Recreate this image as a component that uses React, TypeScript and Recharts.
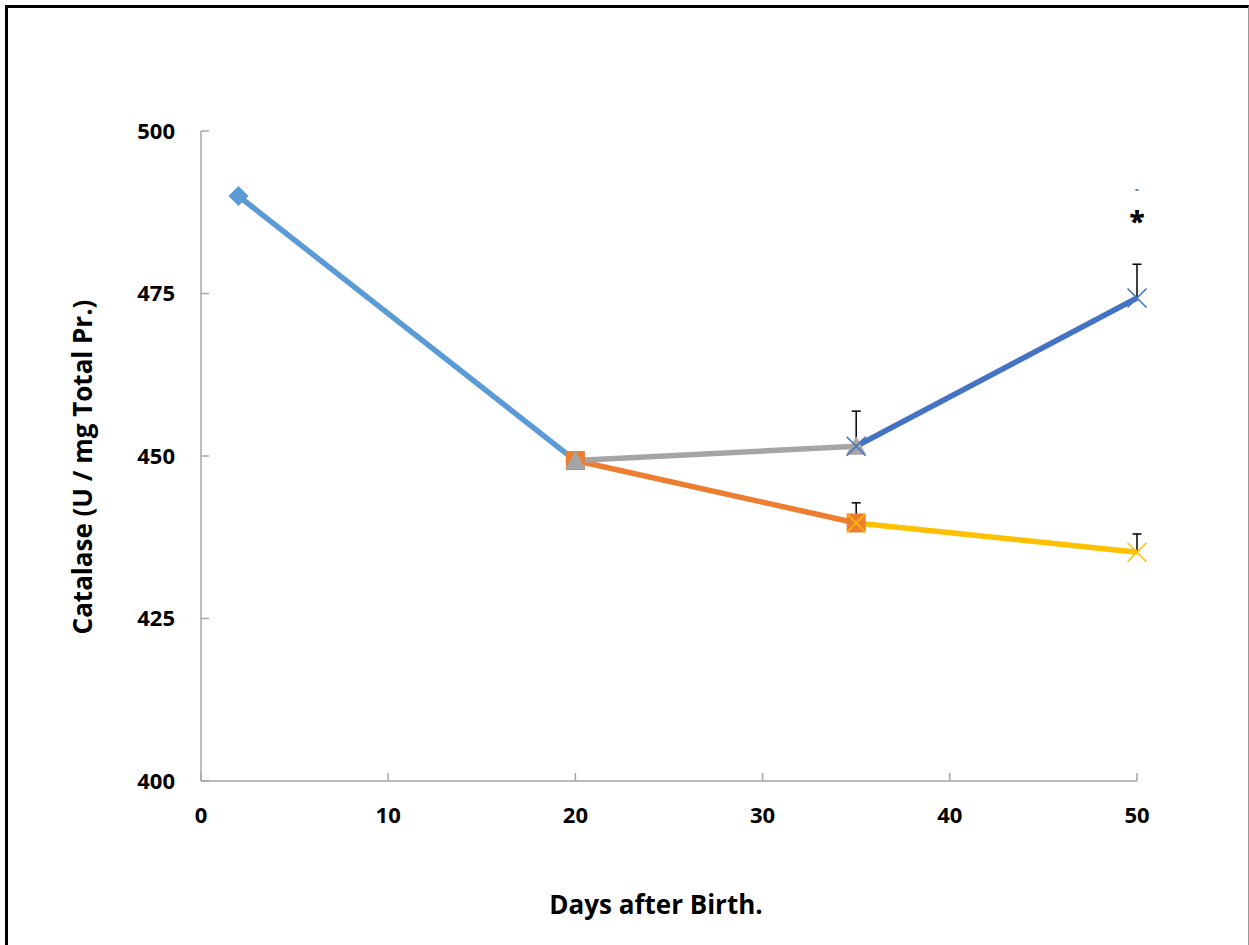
import React from "react";
import {
  ComposedChart,
  Line,
  Scatter,
  XAxis,
  YAxis,
  ErrorBar,
} from "recharts";

// days after birth / catalase readings, one segment per group
const earlyDays = [2, 20];
const earlyCatalase = [490, 449.3];

const orangeDays = [20, 35];
const orangeCatalase = [449.3, 439.7];

const grayDays = [20, 35];
const grayCatalase = [449.3, 451.5];

const blueDays = [35, 50];
const blueCatalase = [451.5, 474.3];
const blueError = [5.4, 5.2];

const yellowDays = [35, 50];
const yellowCatalase = [439.7, 435.2];
const yellowError = [3.1, 2.8];

const xTicks = [0, 10, 20, 30, 40, 50];
const yTicks = [400, 425, 450, 475, 500];

const marks = [
  { x: 50, y: 486.8, text: "*" },
  { x: 50, y: 491, text: "-" },
];

const W = 1249;
const H = 945;
const Y_AXIS_W = 60;
const X_AXIS_H = 30;
const MARGIN = { top: 131, right: 112, left: 141, bottom: 134 };
const PLOT_LEFT = MARGIN.left + Y_AXIS_W;
const PLOT_BOTTOM = H - MARGIN.bottom - X_AXIS_H;

const AXIS_COLOR = "#a6a6a6";
const FONT = "'Open Sans', 'Noto Sans', sans-serif";

const toPoints = (xs: number[], ys: number[], errs?: number[]) =>
  xs.map((x, i) => ({ x, y: ys[i], err: errs ? errs[i] : 0 }));

const earlyData = toPoints(earlyDays, earlyCatalase);
const orangeData = toPoints(orangeDays, orangeCatalase);
const grayData = toPoints(grayDays, grayCatalase);
const blueData = toPoints(blueDays, blueCatalase, blueError);
const yellowData = toPoints(yellowDays, yellowCatalase, yellowError);

// caps sit at the top of each error bar
const capData = [...blueData, ...yellowData].map((d) => ({ x: d.x, y: d.y + d.err }));

const Diamond = (color: string) => (props: any) => {
  const { cx, cy, index } = props;
  if (cx == null || cy == null) return null;
  const r = 10;
  return (
    <path
      key={`d-${index}`}
      d={`M${cx},${cy - r}L${cx + r},${cy}L${cx},${cy + r}L${cx - r},${cy}Z`}
      fill={color}
    />
  );
};

const Square = (color: string) => (props: any) => {
  const { cx, cy, index } = props;
  if (cx == null || cy == null) return null;
  const s = 9.5;
  return <rect key={`s-${index}`} x={cx - s} y={cy - s} width={s * 2} height={s * 2} fill={color} />;
};

const Triangle = (color: string) => (props: any) => {
  const { cx, cy, index } = props;
  if (cx == null || cy == null) return null;
  const r = 10;
  return (
    <path
      key={`t-${index}`}
      d={`M${cx},${cy - r}L${cx + r},${cy + r * 0.85}L${cx - r},${cy + r * 0.85}Z`}
      fill={color}
    />
  );
};

const Cross = (color: string) => (props: any) => {
  const { cx, cy, index } = props;
  if (cx == null || cy == null) return null;
  const r = 9.5;
  return (
    <g key={`x-${index}`} stroke={color} strokeWidth={1.6}>
      <line x1={cx - r} y1={cy - r} x2={cx + r} y2={cy + r} />
      <line x1={cx - r} y1={cy + r} x2={cx + r} y2={cy - r} />
    </g>
  );
};

const Cap = (props: any) => {
  const { cx, cy } = props;
  return <line x1={cx - 4.5} x2={cx + 4.5} y1={cy} y2={cy} stroke="#000" strokeWidth={1.5} />;
};

const MarkText = (props: any) => {
  const { cx, cy, payload } = props;
  const star = payload.text === "*";
  return (
    <text
      x={cx}
      y={cy}
      dy={star ? "0.55em" : "0.3em"}
      textAnchor="middle"
      fontFamily={FONT}
      fontWeight={800}
      fontSize={star ? 28 : 12}
      fill={star ? "#000" : "#8a8a8a"}
    >
      {payload.text}
    </text>
  );
};

const YTick = (props: any) => {
  const { y, payload } = props;
  return (
    <g>
      <line x1={PLOT_LEFT} x2={PLOT_LEFT + 8} y1={y} y2={y} stroke={AXIS_COLOR} strokeWidth={1.5} />
      <text
        x={PLOT_LEFT - 26}
        y={y}
        dy="0.36em"
        textAnchor="end"
        fontFamily={FONT}
        fontWeight={700}
        fontSize={22}
        fill="#000"
      >
        {payload.value}
      </text>
    </g>
  );
};

const XTick = (props: any) => {
  const { x, payload } = props;
  return (
    <g>
      <line x1={x} x2={x} y1={PLOT_BOTTOM} y2={PLOT_BOTTOM - 8} stroke={AXIS_COLOR} strokeWidth={1.5} />
      <text
        x={x}
        y={PLOT_BOTTOM + 42}
        textAnchor="middle"
        fontFamily={FONT}
        fontWeight={700}
        fontSize={22}
        fill="#000"
      >
        {payload.value}
      </text>
    </g>
  );
};

export default function App() {
  return (
    <div
      style={{
        position: "absolute",
        left: 0,
        top: 0,
        width: W,
        height: H,
        overflow: "hidden",
        background: "#fff",
      }}
    >
      <div
        style={{
          position: "absolute",
          left: 5,
          top: 5,
          width: 1240,
          height: 960,
          borderTop: "3px solid #000",
          borderLeft: "3px solid #000",
          borderRight: "1px solid #999",
        }}
      />
      <div style={{ position: "absolute", left: 0, top: 0 }}>
        <ComposedChart width={W} height={H} margin={MARGIN}>
          <XAxis
            type="number"
            dataKey="x"
            domain={[0, 50]}
            ticks={xTicks}
            height={X_AXIS_H}
            axisLine={{ stroke: AXIS_COLOR, strokeWidth: 1.5 }}
            tickLine={false}
            tick={<XTick />}
          />
          <YAxis
            type="number"
            dataKey="y"
            domain={[400, 500]}
            ticks={yTicks}
            width={Y_AXIS_W}
            axisLine={{ stroke: AXIS_COLOR, strokeWidth: 1.5 }}
            tickLine={false}
            tick={<YTick />}
          />
          <Line
            data={earlyData}
            dataKey="y"
            stroke="#5b9bd5"
            strokeWidth={5.5}
            dot={Diamond("#5b9bd5")}
            activeDot={false}
            isAnimationActive={false}
          />
          <Line
            data={orangeData}
            dataKey="y"
            stroke="#ed7d31"
            strokeWidth={5.5}
            dot={Square("#ed7d31")}
            activeDot={false}
            isAnimationActive={false}
          />
          <Line
            data={grayData}
            dataKey="y"
            stroke="#a5a5a5"
            strokeWidth={5.5}
            dot={Triangle("#a5a5a5")}
            activeDot={false}
            isAnimationActive={false}
          />
          <Line
            data={blueData}
            dataKey="y"
            stroke="#4472c4"
            strokeWidth={5.5}
            dot={Cross("#4472c4")}
            activeDot={false}
            isAnimationActive={false}
          >
            <ErrorBar dataKey={(d: any) => [0, d.err]} width={0} stroke="#000" strokeWidth={1.5} direction="y" />
          </Line>
          <Line
            data={yellowData}
            dataKey="y"
            stroke="#ffc000"
            strokeWidth={5.5}
            dot={Cross("#ffc000")}
            activeDot={false}
            isAnimationActive={false}
          >
            <ErrorBar dataKey={(d: any) => [0, d.err]} width={0} stroke="#000" strokeWidth={1.5} direction="y" />
          </Line>
          <Scatter data={capData} dataKey="y" shape={<Cap />} isAnimationActive={false} />
          <Scatter data={marks} dataKey="y" shape={<MarkText />} isAnimationActive={false} />
        </ComposedChart>
      </div>
      <div
        style={{
          position: "absolute",
          left: 456,
          width: 400,
          top: 886,
          textAlign: "center",
          fontFamily: FONT,
          fontWeight: 700,
          fontSize: 26,
          lineHeight: "36px",
          color: "#000",
        }}
      >
        Days after Birth.
      </div>
      <div
        style={{
          position: "absolute",
          left: 82 - 250,
          top: 467 - 18,
          width: 500,
          textAlign: "center",
          transform: "rotate(-90deg)",
          fontFamily: FONT,
          fontWeight: 700,
          fontSize: 26,
          lineHeight: "36px",
          color: "#000",
        }}
      >
        Catalase (U / mg Total Pr.)
      </div>
    </div>
  );
}
